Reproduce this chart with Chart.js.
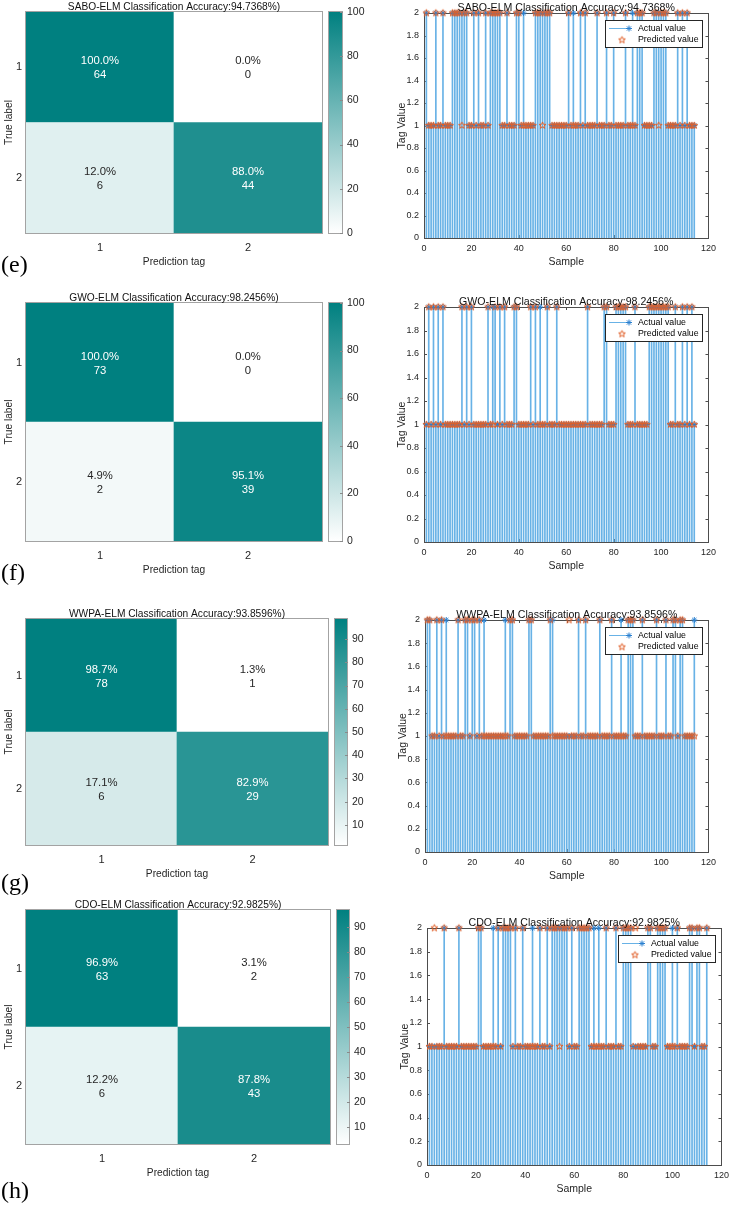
<!DOCTYPE html>
<html>
<head>
<meta charset="utf-8">
<script src="https://cdn.jsdelivr.net/npm/chart.js@4.4.1/dist/chart.umd.min.js"></script>
<style>
html, body { margin: 0; padding: 0; background: #fff; }
#page { position: relative; width: 734px; height: 1207px; overflow: hidden; background: #fff; }
.tag { position: absolute; font-family: "Liberation Serif", "DejaVu Serif", serif; font-size: 24px; line-height: 1; color: #000; }
</style>
</head>
<body>
<div id="page"></div>
<script>
// ---- data ----
const classLabels = ['1', '2'];
const modelNames = ['SABO-ELM', 'GWO-ELM', 'WWPA-ELM', 'CDO-ELM'];
const accuracies = ['94.7368', '98.2456', '93.8596', '92.9825'];
const panelTags = ['(e)', '(f)', '(g)', '(h)'];

// confusion matrices: [true1/pred1, true1/pred2, true2/pred1, true2/pred2]
const saboCounts = [64, 0, 6, 44];
const saboPercent = [100.0, 0.0, 12.0, 88.0];
const gwoCounts = [73, 0, 2, 39];
const gwoPercent = [100.0, 0.0, 4.9, 95.1];
const wwpaCounts = [78, 1, 6, 29];
const wwpaPercent = [98.7, 1.3, 17.1, 82.9];
const cdoCounts = [63, 2, 6, 43];
const cdoPercent = [96.9, 3.1, 12.2, 87.8];

const colorbarTicksA = [0, 20, 40, 60, 80, 100];
const colorbarTicksB = [10, 20, 30, 40, 50, 60, 70, 80, 90];
const sampleTicks = [0, 20, 40, 60, 80, 100, 120];
const tagTicks = [0, 0.2, 0.4, 0.6, 0.8, 1, 1.2, 1.4, 1.6, 1.8, 2];

// tag value per sample (114 test samples)
const saboActual = [
  2,1,1,1,2,1,1,2,1,1, 1,2,2,2,2,2,2,2,1,1, 2,1,2,1,1,2,1,2,2,2, 2,2,1,1,2,1,1,1,2,2,
  1,2,1,1,1,1,2,2,2,2, 2,2,2,1,1,1,1,1,1,1, 2,1,2,1,1,2,1,2,1,1, 1,1,2,1,1,1,2,1,1,2,
  1,1,1,1,2,1,1,2,1,2, 2,2,1,1,1,1,2,2,2,2, 2,2,1,1,1,1,2,1,2,1, 2,1,1,1];
const saboPredicted = [
  2,1,1,1,2,1,1,2,1,1, 1,2,2,2,2,1,2,2,1,1, 2,1,2,1,1,2,1,2,2,2, 2,2,1,1,2,1,1,1,2,2,
  1,1,1,1,1,1,2,2,2,1, 2,2,2,1,1,1,1,1,1,1, 2,1,1,1,1,2,1,2,1,1, 1,1,2,1,1,1,2,1,1,2,
  1,1,1,1,2,1,1,1,1,2, 2,2,1,1,1,1,2,2,1,2, 2,2,1,1,1,1,2,1,2,1, 2,1,1,1];
const gwoActual = [
  1,2,1,2,1,2,1,2,1,1, 1,1,1,1,1,2,1,2,1,2, 1,1,1,1,1,1,2,1,2,2, 1,2,1,2,1,1,1,2,2,1,
  1,1,1,1,2,1,2,1,2,1, 1,2,1,1,1,2,1,1,1,1, 1,1,1,1,1,1,1,1,2,1, 1,1,1,1,1,2,2,1,1,1,
  2,2,2,2,2,1,1,1,2,1, 1,1,1,1,2,2,2,2,2,2, 2,2,2,1,1,2,1,1,2,1, 2,1,2,1];
const gwoPredicted = [
  1,2,1,2,1,2,1,2,1,1, 1,1,1,1,1,2,1,2,1,2, 1,1,1,1,1,1,2,1,1,2, 1,2,1,2,1,1,1,2,2,1,
  1,1,1,1,2,1,2,1,1,1, 1,2,1,1,1,2,1,1,1,1, 1,1,1,1,1,1,1,1,2,1, 1,1,1,1,1,2,2,1,1,1,
  2,2,2,2,2,1,1,1,2,1, 1,1,1,1,2,2,2,2,2,2, 2,2,2,1,1,2,1,1,2,1, 2,1,2,1];
const wwpaActual = [
  2,2,1,1,2,1,2,1,2,1, 1,1,1,2,1,1,2,2,1,2, 2,1,2,1,2,1,1,1,1,1, 1,1,1,2,1,2,2,1,1,1,
  1,1,1,2,2,1,1,1,1,1, 1,1,2,2,1,1,1,1,1,1, 1,1,1,1,2,1,1,2,1,1, 1,1,1,2,1,1,1,1,2,1,
  1,1,2,1,1,2,2,2,1,1, 1,2,1,1,1,1,1,2,1,1, 1,2,1,1,2,2,1,2,2,1, 1,1,1,2];
const wwpaPredicted = [
  2,2,1,1,2,1,2,1,1,1, 1,1,1,2,1,1,2,2,1,2, 2,1,2,1,1,1,1,1,1,1, 1,1,1,1,1,2,2,1,1,1,
  1,1,1,2,2,1,1,1,1,1, 1,1,2,1,1,1,1,1,1,1, 2,1,1,1,2,1,1,2,1,1, 1,1,1,2,1,1,1,1,2,1,
  1,1,1,1,1,2,2,2,1,1, 1,2,1,1,1,1,1,2,1,1, 1,2,1,1,2,2,1,2,2,1, 1,1,1,1];
const cdoActual = [
  1,1,1,1,1,1,2,1,1,1, 1,1,2,1,1,1,1,1,1,1, 2,2,1,1,1,1,2,1,2,1, 2,2,2,2,1,2,1,1,2,1,
  1,1,2,1,1,2,1,1,2,1, 2,2,2,2,2,2,2,1,2,1, 1,2,2,2,2,2,1,2,1,2, 1,1,2,1,1,1,2,1,1,2,
  2,2,2,1,1,1,1,1,1,2, 2,1,1,2,2,2,2,1,1,2, 1,2,1,1,1,1,2,2,1,2, 2,1,1,2];
const cdoPredicted = [
  1,1,2,1,1,1,2,1,1,1, 1,1,2,1,1,1,1,1,1,1, 2,2,1,1,1,1,1,1,2,1, 2,2,2,2,1,2,1,1,2,1,
  1,1,1,1,1,2,1,1,2,1, 2,2,2,1,2,2,2,1,2,1, 1,2,2,2,2,2,1,1,1,1, 1,1,2,1,1,1,2,1,1,2,
  2,2,2,1,2,1,1,1,1,2, 2,1,1,2,2,2,2,1,1,1, 1,2,1,1,1,1,2,2,1,2, 2,1,1,2];

// ---- layout (page pixels: left, top, right, bottom of each plot area) ----
const panels = [
  { cm: [26, 12, 322, 233],   cb: [328, 12, 343, 233],   st: [424, 13, 713, 238],   tag: [1, 252] },
  { cm: [26, 303, 322, 541],  cb: [328, 303, 343, 541],  st: [424, 307, 713, 542],  tag: [1, 560] },
  { cm: [26, 619, 328, 845],  cb: [334, 619, 348, 845],  st: [425, 620, 713, 852],  tag: [1, 870] },
  { cm: [26, 910, 330, 1144], cb: [336, 910, 350, 1144], st: [427, 928, 726, 1165], tag: [1, 1178] }
];

const FONT = '"Liberation Sans", Arial, Helvetica, sans-serif';
const TEAL = [0, 128, 128];
const STEM_BLUE = '#68b2e6';
const MARK_BLUE = '#2a80d0';
const ORANGE = '#e0602a';
const INK = '#262626';

Chart.defaults.font.family = FONT;
Chart.defaults.color = INK;
Chart.defaults.animation = false;

const page = document.getElementById('page');

function addCanvas(box, pad) {
  const w = box[2] - box[0] + pad[0] + pad[2];
  const h = box[3] - box[1] + pad[1] + pad[3];
  const c = document.createElement('canvas');
  c.width = w;
  c.height = h;
  c.style.cssText = 'position:absolute;left:' + (box[0] - pad[0]) + 'px;top:' + (box[1] - pad[1]) + 'px;width:' + w + 'px;height:' + h + 'px';
  page.appendChild(c);
  return c;
}

function shade(v, lo, hi) {
  const t = (v - lo) / (hi - lo);
  const ch = k => Math.round(255 + (TEAL[k] - 255) * t);
  return 'rgb(' + ch(0) + ',' + ch(1) + ',' + ch(2) + ')';
}

function pentagram(color, r) {
  const s = Math.ceil(r * 2 + 3);
  const c = document.createElement('canvas');
  c.width = s; c.height = s;
  const g = c.getContext('2d');
  g.strokeStyle = color;
  g.lineWidth = 1;
  g.beginPath();
  for (let k = 0; k < 10; k++) {
    const rr = k % 2 ? r * 0.42 : r;
    const ang = -Math.PI / 2 + k * Math.PI / 5;
    const px = s / 2 + rr * Math.cos(ang), py = s / 2 + rr * Math.sin(ang);
    if (k) g.lineTo(px, py); else g.moveTo(px, py);
  }
  g.closePath();
  g.stroke();
  return c;
}
const starImg = pentagram(ORANGE, 3.6);

function asterisk(ctx, x, y, r, color) {
  ctx.save();
  ctx.strokeStyle = color;
  ctx.lineWidth = 1;
  ctx.beginPath();
  for (let k = 0; k < 4; k++) {
    const a = k * Math.PI / 4;
    ctx.moveTo(x - r * Math.cos(a), y - r * Math.sin(a));
    ctx.lineTo(x + r * Math.cos(a), y + r * Math.sin(a));
  }
  ctx.stroke();
  ctx.restore();
}

function noGrid() {
  return { display: false, drawTicks: false };
}

// ---- confusion matrix ----
function drawMatrix(i, counts, percent) {
  const box = panels[i].cm;
  const pad = [26, 14, 6, 39];
  const lo = Math.min(...percent), hi = Math.max(...percent);
  const fills = percent.map(v => shade(v, lo, hi));
  const title = modelNames[i] + ' Classification Accuracy:' + accuracies[i] + '%)';

  const cellText = {
    id: 'cellText',
    afterDatasetsDraw(chart) {
      const ctx = chart.ctx, a = chart.chartArea;
      ctx.save();
      ctx.font = '11.3px ' + FONT;
      ctx.textAlign = 'center';
      ctx.textBaseline = 'middle';
      chart.data.datasets.forEach((ds, di) => {
        chart.getDatasetMeta(di).data.forEach((bar, xi) => {
          const k = ds.cells[xi];
          const t = (percent[k] - lo) / (hi - lo);
          const cy = (bar.y + bar.base) / 2;
          ctx.fillStyle = t > 0.6 ? '#ffffff' : INK;
          ctx.fillText(percent[k].toFixed(1) + '%', bar.x, cy - 6);
          ctx.fillText(String(counts[k]), bar.x, cy + 8);
        });
      });
      ctx.strokeStyle = '#a3a3a3';
      ctx.lineWidth = 1;
      ctx.strokeRect(a.left - 0.5, a.top - 0.5, a.width + 1, a.height + 1);
      ctx.fillStyle = '#111';
      ctx.font = '10.2px ' + FONT;
      ctx.textBaseline = 'alphabetic';
      ctx.fillText(title, (a.left + a.right) / 2, a.top - 2.5);
      ctx.restore();
    }
  };

  new Chart(addCanvas(box, pad), {
    type: 'bar',
    data: {
      labels: classLabels,
      datasets: [
        { label: 'True 2', data: [1, 1], backgroundColor: [fills[2], fills[3]], cells: [2, 3] },
        { label: 'True 1', data: [1, 1], backgroundColor: [fills[0], fills[1]], cells: [0, 1] }
      ]
    },
    options: {
      responsive: false,
      events: [],
      layout: { padding: { left: 0, top: pad[1], right: pad[2], bottom: 0 } },
      datasets: { bar: { barPercentage: 1, categoryPercentage: 1, borderWidth: 0 } },
      plugins: { legend: { display: false }, tooltip: { enabled: false } },
      scales: {
        x: {
          stacked: true,
          grid: noGrid(), border: { display: false },
          ticks: { padding: 8, font: { size: 11 }, color: INK },
          title: { display: true, text: 'Prediction tag', font: { size: 10.2 }, color: INK, padding: { top: 0, bottom: 4 } },
          afterFit: s => { s.height = pad[3]; }
        },
        y: {
          stacked: true, min: 0, max: 2,
          grid: noGrid(), border: { display: false },
          afterBuildTicks: s => { s.ticks = [{ value: 0.5 }, { value: 1.5 }]; },
          ticks: { padding: 4, font: { size: 11 }, color: INK, callback: v => (v > 1 ? classLabels[0] : classLabels[1]) },
          title: { display: true, text: 'True label', font: { size: 10.2 }, color: INK, padding: { top: 3, bottom: 0 } },
          afterFit: s => { s.width = pad[0]; }
        }
      }
    },
    plugins: [cellText]
  });
}

// ---- colour bar ----
function drawColorbar(i, percent, ticks) {
  const box = panels[i].cb;
  const pad = [0, 14, 28, 14];
  const lo = Math.min(...percent), hi = Math.max(...percent);
  const tealCss = 'rgb(' + TEAL.join(',') + ')';

  const frame = {
    id: 'cbFrame',
    afterDraw(chart) {
      const ctx = chart.ctx, a = chart.chartArea, y = chart.scales.y;
      ctx.save();
      ctx.strokeStyle = '#a3a3a3';
      ctx.lineWidth = 1;
      ctx.strokeRect(a.left + 0.5, a.top - 0.5, a.width - 1, a.height + 1);
      ctx.strokeStyle = '#8a8a8a';
      ctx.beginPath();
      ticks.forEach(v => {
        const py = Math.round(y.getPixelForValue(v)) + 0.5;
        ctx.moveTo(a.right - 3, py);
        ctx.lineTo(a.right, py);
      });
      ctx.stroke();
      ctx.restore();
    }
  };

  new Chart(addCanvas(box, pad), {
    type: 'bar',
    data: {
      labels: [''],
      datasets: [{
        data: [[lo, hi]],
        borderWidth: 0,
        backgroundColor: context => {
          const a = context.chart.chartArea;
          if (!a) return tealCss;
          const g = context.chart.ctx.createLinearGradient(0, a.bottom, 0, a.top);
          g.addColorStop(0, '#ffffff');
          g.addColorStop(1, tealCss);
          return g;
        }
      }]
    },
    options: {
      responsive: false,
      events: [],
      layout: { padding: { left: 0, top: pad[1], right: 0, bottom: pad[3] } },
      datasets: { bar: { barPercentage: 1, categoryPercentage: 1 } },
      plugins: { legend: { display: false }, tooltip: { enabled: false } },
      scales: {
        x: { display: false },
        y: {
          position: 'right', min: lo, max: hi,
          grid: noGrid(), border: { display: false },
          afterBuildTicks: s => { s.ticks = ticks.map(v => ({ value: v })); },
          ticks: { padding: 4, font: { size: 10.5 }, color: INK, callback: v => String(v) },
          afterFit: s => { s.width = pad[2]; }
        }
      }
    },
    plugins: [frame]
  });
}

// ---- stem plot ----
function drawStem(i, actual, predicted) {
  const box = panels[i].st;
  const pad = [32, 14, 8, 34];
  const title = modelNames[i] + ' Classification Accuracy:' + accuracies[i] + '%';
  const toPoints = arr => arr.map((v, k) => ({ x: k + 1, y: v }));

  const frame = {
    id: 'stemFrame',
    beforeDatasetsDraw(chart) {
      const ctx = chart.ctx, a = chart.chartArea, xs = chart.scales.x, ys = chart.scales.y;
      ctx.save();
      ctx.strokeStyle = '#4d4d4d';
      ctx.lineWidth = 1;
      ctx.strokeRect(Math.round(a.left) + 0.5, Math.round(a.top) + 0.5, Math.round(a.width), Math.round(a.height));
      ctx.beginPath();
      sampleTicks.forEach(v => {
        const px = Math.round(xs.getPixelForValue(v)) + 0.5;
        ctx.moveTo(px, a.bottom); ctx.lineTo(px, a.bottom - 3);
        ctx.moveTo(px, a.top); ctx.lineTo(px, a.top + 3);
      });
      tagTicks.forEach(v => {
        const py = Math.round(ys.getPixelForValue(v)) + 0.5;
        ctx.moveTo(a.left, py); ctx.lineTo(a.left + 3, py);
        ctx.moveTo(a.right, py); ctx.lineTo(a.right - 3, py);
      });
      ctx.stroke();
      ctx.restore();
    },
    afterDraw(chart) {
      const ctx = chart.ctx, a = chart.chartArea;
      ctx.save();
      ctx.fillStyle = '#111';
      ctx.font = '10.6px ' + FONT;
      ctx.textAlign = 'center';
      ctx.textBaseline = 'alphabetic';
      ctx.fillText(title, (a.left + a.right) / 2, a.top - 2.5);

      const x0 = Math.round(a.right) - 103, y0 = Math.round(a.top) + 7, w = 97, h = 27;
      ctx.fillStyle = '#ffffff';
      ctx.fillRect(x0, y0, w, h);
      ctx.strokeStyle = INK;
      ctx.lineWidth = 1;
      ctx.strokeRect(x0 + 0.5, y0 + 0.5, w, h);
      ctx.strokeStyle = STEM_BLUE;
      ctx.beginPath();
      ctx.moveTo(x0 + 4, y0 + 8.5);
      ctx.lineTo(x0 + 24, y0 + 8.5);
      ctx.stroke();
      asterisk(ctx, x0 + 24, y0 + 8.5, 3, MARK_BLUE);
      ctx.drawImage(starImg, x0 + 17 - starImg.width / 2, y0 + 20 - starImg.height / 2);
      ctx.fillStyle = '#000';
      ctx.font = '8.8px ' + FONT;
      ctx.textAlign = 'left';
      ctx.textBaseline = 'middle';
      ctx.fillText('Actual value', x0 + 33, y0 + 8.5);
      ctx.fillText('Predicted value', x0 + 33, y0 + 20);
      ctx.restore();
    }
  };

  new Chart(addCanvas(box, pad), {
    type: 'bar',
    data: {
      datasets: [
        {
          type: 'line', label: 'Predicted value', data: toPoints(predicted),
          showLine: false, pointStyle: starImg, pointRadius: 3.6, clip: false, order: 1
        },
        {
          type: 'line', label: 'Actual value', data: toPoints(actual),
          showLine: false, pointStyle: 'star', pointRadius: 3, pointBorderWidth: 1,
          pointBorderColor: MARK_BLUE, pointBackgroundColor: MARK_BLUE, clip: false, order: 2
        },
        {
          type: 'bar', label: 'stem', data: toPoints(actual),
          backgroundColor: STEM_BLUE, barThickness: 1, borderWidth: 0, order: 3
        }
      ]
    },
    options: {
      responsive: false,
      events: [],
      layout: { padding: { left: 0, top: pad[1], right: pad[2], bottom: 0 } },
      plugins: { legend: { display: false }, tooltip: { enabled: false } },
      scales: {
        x: {
          type: 'linear', min: 0, max: 120, offset: false,
          grid: Object.assign(noGrid(), { offset: false }), border: { display: false },
          afterBuildTicks: s => { s.ticks = sampleTicks.map(v => ({ value: v })); },
          ticks: { padding: 5, font: { size: 9 }, color: INK, callback: v => String(v) },
          title: { display: true, text: 'Sample', font: { size: 10.5 }, color: INK, padding: { top: 0, bottom: 4 } },
          afterFit: s => { s.height = pad[3]; }
        },
        y: {
          min: 0, max: 2,
          grid: noGrid(), border: { display: false },
          afterBuildTicks: s => { s.ticks = tagTicks.map(v => ({ value: v })); },
          ticks: { padding: 5, font: { size: 9 }, color: INK, callback: v => String(v) },
          title: { display: true, text: 'Tag Value', font: { size: 10.5 }, color: INK, padding: { top: 4, bottom: 0 } },
          afterFit: s => { s.width = pad[0]; }
        }
      }
    },
    plugins: [frame]
  });
}

function addTag(i) {
  const d = document.createElement('div');
  d.className = 'tag';
  d.style.left = panels[i].tag[0] + 'px';
  d.style.top = panels[i].tag[1] + 'px';
  d.textContent = panelTags[i];
  page.appendChild(d);
}

const matrixCounts = [saboCounts, gwoCounts, wwpaCounts, cdoCounts];
const matrixPercent = [saboPercent, gwoPercent, wwpaPercent, cdoPercent];
const colorbarTicks = [colorbarTicksA, colorbarTicksA, colorbarTicksB, colorbarTicksB];
const actualSeries = [saboActual, gwoActual, wwpaActual, cdoActual];
const predictedSeries = [saboPredicted, gwoPredicted, wwpaPredicted, cdoPredicted];

for (let i = 0; i < 4; i++) {
  drawMatrix(i, matrixCounts[i], matrixPercent[i]);
  drawColorbar(i, matrixPercent[i], colorbarTicks[i]);
  drawStem(i, actualSeries[i], predictedSeries[i]);
  addTag(i);
}
</script>
</body>
</html>
